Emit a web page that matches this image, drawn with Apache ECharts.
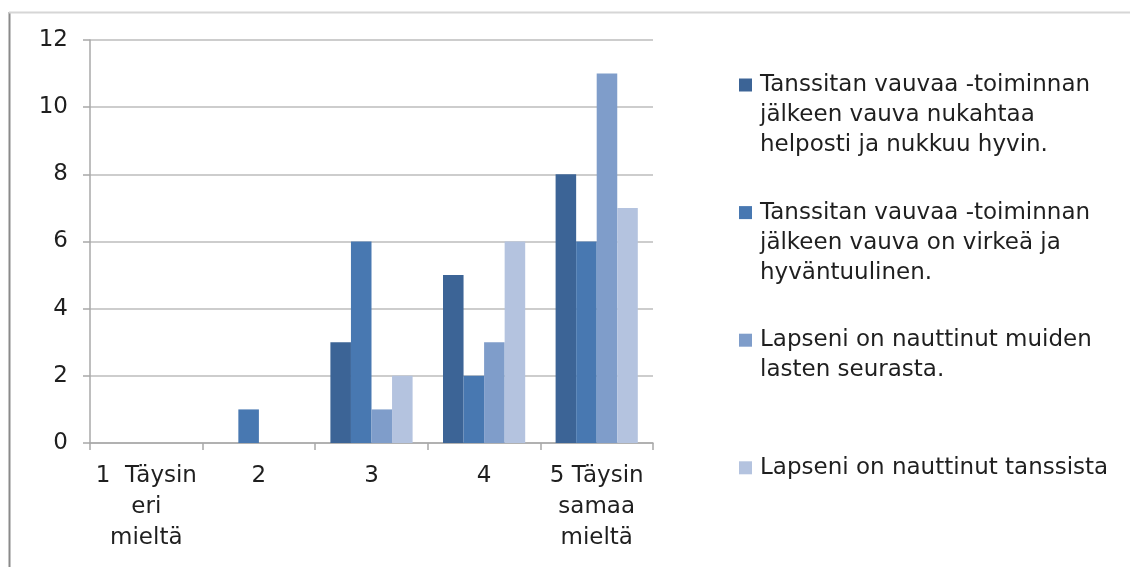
<!DOCTYPE html>
<html>
<head>
<meta charset="utf-8">
<script src="https://cdn.jsdelivr.net/npm/echarts@6/dist/echarts.min.js"></script>
<style>
  html, body { margin: 0; padding: 0; background: #ffffff; }
  #chart { width: 1130px; height: 567px; }
</style>
</head>
<body>
<div id="chart"></div>
<script>
// Likert scale answers (1 = strongly disagree ... 5 = strongly agree)
const categories = ['1  Täysin\neri\nmieltä', '2', '3', '4', '5 Täysin\nsamaa\nmieltä'];

// Number of respondents per answer, one array per statement
const nukahtaa = [0, 0, 3, 5, 8];
const virkea   = [0, 1, 6, 2, 6];
const muiden   = [0, 0, 1, 3, 11];
const tanssi   = [0, 0, 2, 6, 7];

const seriesNames = [
  'Tanssitan vauvaa -toiminnan jälkeen vauva nukahtaa helposti ja nukkuu hyvin.',
  'Tanssitan vauvaa -toiminnan jälkeen vauva on virkeä ja hyväntuulinen.',
  'Lapseni on nauttinut muiden lasten seurasta.',
  'Lapseni on nauttinut tanssista'
];
// Wrapped legend text for each statement
const legendLines = [
  ['Tanssitan vauvaa -toiminnan', 'jälkeen vauva nukahtaa', 'helposti ja nukkuu hyvin.'],
  ['Tanssitan vauvaa -toiminnan', 'jälkeen vauva on virkeä ja', 'hyväntuulinen.'],
  ['Lapseni on nauttinut muiden', 'lasten seurasta.'],
  ['Lapseni on nauttinut tanssista']
];
const seriesValues = [nukahtaa, virkea, muiden, tanssi];
const colors = ['#3c6496', '#4878b1', '#7f9dca', '#b4c3df'];

const FONT = 'DejaVu Sans';
const TEXT = '#1f1f1f';
const FONT_SIZE = 23;
const LINE_H = 30;

// One legend block per statement. Legend text is centred on its swatch,
// so empty lines are put in front to keep the first line level with it.
const legends = seriesNames.map((name, i) => {
  const n = legendLines[i].length;
  const blockH = (2 * n - 1) * LINE_H;
  const swatchCenter = 85 + i * 127.6;
  const text = new Array(n - 1).fill('').concat(legendLines[i]).join('\n');
  return {
    data: [name],
    orient: 'vertical',
    left: 739,
    top: swatchCenter - blockH / 2,
    padding: 0,
    itemWidth: 13,
    itemHeight: 13,
    icon: 'rect',
    selectedMode: false,
    formatter: () => text,
    textStyle: {
      fontFamily: FONT,
      fontSize: FONT_SIZE,
      color: TEXT,
      lineHeight: LINE_H,
      padding: [0, 0, 0, 3]
    }
  };
});

const chart = echarts.init(document.getElementById('chart'), null, { renderer: 'canvas' });

chart.setOption({
  animation: false,
  backgroundColor: '#ffffff',
  color: colors,
  grid: { left: 90, right: 477, top: 40, bottom: 124, containLabel: false },
  legend: legends,
  xAxis: {
    type: 'category',
    data: categories,
    axisLine: { lineStyle: { color: '#a8a8a8', width: 1.5 } },
    axisTick: { show: true, length: 7, lineStyle: { color: '#a8a8a8', width: 1.5 } },
    axisLabel: {
      interval: 0,
      margin: 18,
      fontFamily: FONT,
      fontSize: FONT_SIZE,
      lineHeight: 31,
      color: TEXT,
      align: 'center'
    }
  },
  yAxis: {
    type: 'value',
    min: 0,
    max: 12,
    interval: 2,
    axisLine: { show: true, lineStyle: { color: '#a8a8a8', width: 1.5 } },
    axisTick: { show: true, length: 7, lineStyle: { color: '#a8a8a8', width: 1.5 } },
    splitLine: { lineStyle: { color: '#bdbdbd', width: 1.5 } },
    axisLabel: {
      margin: 22,
      fontFamily: FONT,
      fontSize: FONT_SIZE,
      color: TEXT
    }
  },
  series: seriesValues.map((vals, i) => ({
    name: seriesNames[i],
    type: 'bar',
    data: vals,
    barGap: '0%',
    barCategoryGap: '27%',
    itemStyle: { color: colors[i] }
  })),
  graphic: [
    { type: 'line', silent: true, shape: { x1: 9.5, y1: 12, x2: 9.5, y2: 567 },
      style: { stroke: '#8a8a8a', lineWidth: 2 } },
    { type: 'line', silent: true, shape: { x1: 9, y1: 12.5, x2: 1130, y2: 12.5 },
      style: { stroke: '#d6d6d6', lineWidth: 2 } }
  ]
});
</script>
</body>
</html>
